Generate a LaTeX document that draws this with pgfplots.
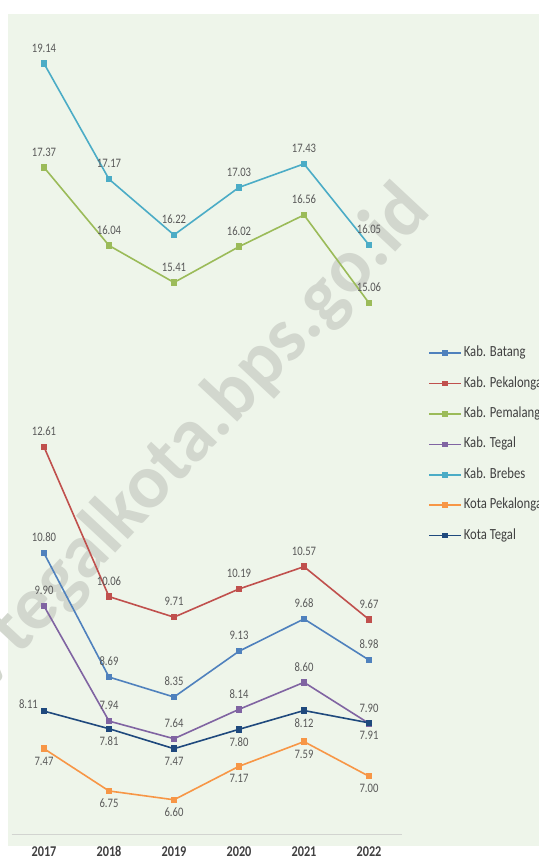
\documentclass[border=0pt]{standalone}
\usepackage{pgfplots}
\pgfplotsset{compat=1.18}
\usepackage{fontspec}
\setmainfont{Carlito}[FakeStretch=0.82]
\newfontfamily\wmfont{Carlito}
\definecolor{cBatang}{HTML}{4F81BD}
\definecolor{cPekal}{HTML}{C0504D}
\definecolor{cPemal}{HTML}{9BBB59}
\definecolor{cTegal}{HTML}{8064A2}
\definecolor{cBrebes}{HTML}{4BACC6}
\definecolor{cKPekal}{HTML}{F79646}
\definecolor{cKTegal}{HTML}{1F497D}
\definecolor{bgGreen}{HTML}{EEF5EA}
\definecolor{lblGray}{HTML}{595959}
\definecolor{wmGray}{HTML}{D2D7CE}
\begin{document}
\begin{tikzpicture}[x=1bp,y=1bp]
\useasboundingbox (0,0) rectangle (539,864);
\fill[white] (0,0) rectangle (539,864);
\fill[bgGreen] (8,18) rectangle (539,850);
\node[wmGray, rotate=47, anchor=base east, font=\wmfont\fontsize{77}{77}\selectfont\bfseries, inner sep=0pt] at (433,652) {/tegalkota.bps.go.id};
\begin{axis}[
  at={(11.5bp,29bp)}, anchor=south west,
  scale only axis, width=390bp, height=822bp,
  xmin=-0.5, xmax=5.5, ymin=6, ymax=20,
  axis y line=none,
  axis x line*=bottom,
  x axis line style={draw={rgb,255:red,210;green,212;blue,208}, line width=1bp, -},
  xtick={0,1,2,3,4,5},
  xticklabels={2017,2018,2019,2020,2021,2022},
  xticklabel style={font=\fontsize{15}{15}\selectfont\bfseries, text={rgb,255:red,64;green,64;blue,64}, yshift=-8bp},
  major tick length=0pt,
  clip=false,
  every axis plot/.append style={line width=1.6bp, mark=square*, mark size=2.4bp},
  point meta=explicit symbolic,
  nodes near coords style={font=\fontsize{13}{13}\selectfont, text=lblGray},
  legend style={at={(1.068,0.599)}, anchor=north west, draw=none, fill=none,
    font=\fontsize{15.5}{15.5}\selectfont, text={rgb,255:red,64;green,64;blue,64},
    nodes={text height=10bp, text depth=3bp}, row sep=13.4bp, inner xsep=0pt},
  legend cell align=left,
  legend image code/.code={\draw[mark repeat=2,mark phase=2, mark size=2bp, line width=1.6bp] plot coordinates {(0bp,0bp) (16bp,0bp) (32bp,0bp)};},
]
\addplot[cBatang, nodes near coords, nodes near coords style={anchor=south, yshift=7bp}] coordinates {
 (0,10.80)[10.80] (1,8.69)[8.69] (2,8.35)[8.35] (3,9.13)[9.13] (4,9.68)[9.68] (5,8.98)[8.98]};
\addlegendentry{Kab. Batang}
\addplot[cPekal, nodes near coords, nodes near coords style={anchor=south, yshift=7bp}] coordinates {
 (0,12.61)[12.61] (1,10.06)[10.06] (2,9.71)[9.71] (3,10.19)[10.19] (4,10.57)[10.57] (5,9.67)[9.67]};
\addlegendentry{Kab. Pekalongan}
\addplot[cPemal, nodes near coords, nodes near coords style={anchor=south, yshift=7bp}] coordinates {
 (0,17.37)[17.37] (1,16.04)[16.04] (2,15.41)[15.41] (3,16.02)[16.02] (4,16.56)[16.56] (5,15.06)[15.06]};
\addlegendentry{Kab. Pemalang}
\addplot[cTegal, nodes near coords, nodes near coords style={anchor=south, yshift=7bp}] coordinates {
 (0,9.90)[9.90] (1,7.94)[7.94] (2,7.64)[7.64] (3,8.14)[8.14] (4,8.60)[8.60] (5,7.90)[7.90]};
\addlegendentry{Kab. Tegal}
\addplot[cBrebes, nodes near coords, nodes near coords style={anchor=south, yshift=7bp}] coordinates {
 (0,19.14)[19.14] (1,17.17)[17.17] (2,16.22)[16.22] (3,17.03)[17.03] (4,17.43)[17.43] (5,16.05)[16.05]};
\addlegendentry{Kab. Brebes}
\addplot[cKPekal, nodes near coords, nodes near coords style={anchor=north, yshift=-4bp}] coordinates {
 (0,7.47)[7.47] (1,6.75)[6.75] (2,6.60)[6.60] (3,7.17)[7.17] (4,7.59)[7.59] (5,7.00)[7.00]};
\addlegendentry{Kota Pekalongan}
\addplot[cKTegal] coordinates {
 (0,8.11)[8.11] (1,7.81)[7.81] (2,7.47)[7.47] (3,7.80)[7.80] (4,8.12)[8.12] (5,7.91)[7.91]};
\addlegendentry{Kota Tegal}
\addplot[forget plot, draw=none, mark=none, nodes near coords, nodes near coords style={anchor=north, yshift=-4bp}] coordinates {
 (1,7.81)[7.81] (2,7.47)[7.47] (3,7.80)[7.80] (4,8.12)[8.12] (5,7.91)[7.91]};
\addplot[forget plot, draw=none, mark=none, nodes near coords, nodes near coords style={anchor=east, xshift=-2bp, yshift=7bp}] coordinates {
 (0,8.11)[8.11]};
\end{axis}
\end{tikzpicture}
\end{document}
